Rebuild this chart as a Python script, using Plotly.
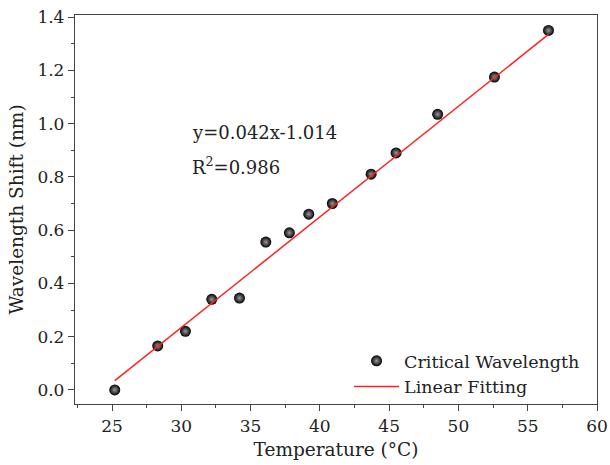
import plotly.graph_objects as go

temperature = [25.2, 28.3, 30.3, 32.2, 34.2, 36.1, 37.8, 39.2, 40.9, 43.7, 45.5, 48.5, 52.6, 56.5]
wavelength_shift = [0.0, 0.165, 0.22, 0.34, 0.345, 0.555, 0.59, 0.66, 0.70, 0.81, 0.89, 1.035, 1.175, 1.35]
fit_x = [25.2, 56.5]
fit_y = [0.035, 1.335]

FONT = "DejaVu Serif"
TXT = "#222"
fig = go.Figure()
fig.add_trace(go.Scatter(
    x=temperature, y=wavelength_shift, mode="markers", name="Critical Wavelength",
    marker=dict(size=11, color="black", symbol="circle",
                gradient=dict(type="radial", color="#9a9a9a"),
                line=dict(width=0)),
))
fig.add_trace(go.Scatter(
    x=fit_x, y=fit_y, mode="lines", name="Linear Fitting",
    line=dict(color="#ff2020", width=1.5),
))
fig.add_annotation(x=0.22, y=0.697, xref="paper", yref="paper", xanchor="left", yanchor="middle",
                   text="y=0.042x-1.014", showarrow=False, font=dict(family=FONT, size=18, color=TXT))
fig.add_annotation(x=0.22, y=0.612, xref="paper", yref="paper", xanchor="left", yanchor="middle",
                   text="R<sup>2</sup>=0.986", showarrow=False, font=dict(family=FONT, size=18, color=TXT))

axis_common = dict(showline=True, linecolor="#444", linewidth=1.3, mirror=True, showgrid=False,
                   zeroline=False, ticks="outside", ticklen=6, tickcolor="#444", tickwidth=1.2,
                   automargin=False,
                   tickfont=dict(family=FONT, size=17, color=TXT))
fig.update_xaxes(range=[22.33, 60], tickvals=[25, 30, 35, 40, 45, 50, 55, 60],
                 minor=dict(dtick=2.5, tick0=0, ticks="outside", ticklen=3, tickcolor="#444"),
                 title=dict(text="Temperature (°C)", font=dict(family=FONT, size=18.5, color=TXT), standoff=8),
                 **axis_common)
fig.update_yaxes(range=[-0.053, 1.408], tickvals=[0, 0.2, 0.4, 0.6, 0.8, 1.0, 1.2, 1.4], tickformat=".1f",
                 minor=dict(dtick=0.1, tick0=0, ticks="outside", ticklen=3, tickcolor="#444"),
                 title=dict(text="Wavelength Shift (nm)", font=dict(family=FONT, size=18.5, color=TXT), standoff=8),
                 **axis_common)
fig.update_layout(
    width=610, height=465, plot_bgcolor="white", paper_bgcolor="white",
    margin=dict(l=75, r=13, t=15, b=61),
    legend=dict(x=0.525, y=0.157, xanchor="left", yanchor="top", bgcolor="rgba(0,0,0,0)",
                font=dict(family=FONT, size=17.5, color=TXT), itemwidth=45),
    showlegend=True,
)
fig.write_html("out.html", config={"displayModeBar": False},
               post_script="document.body.style.margin='0';document.body.style.padding='0';")
